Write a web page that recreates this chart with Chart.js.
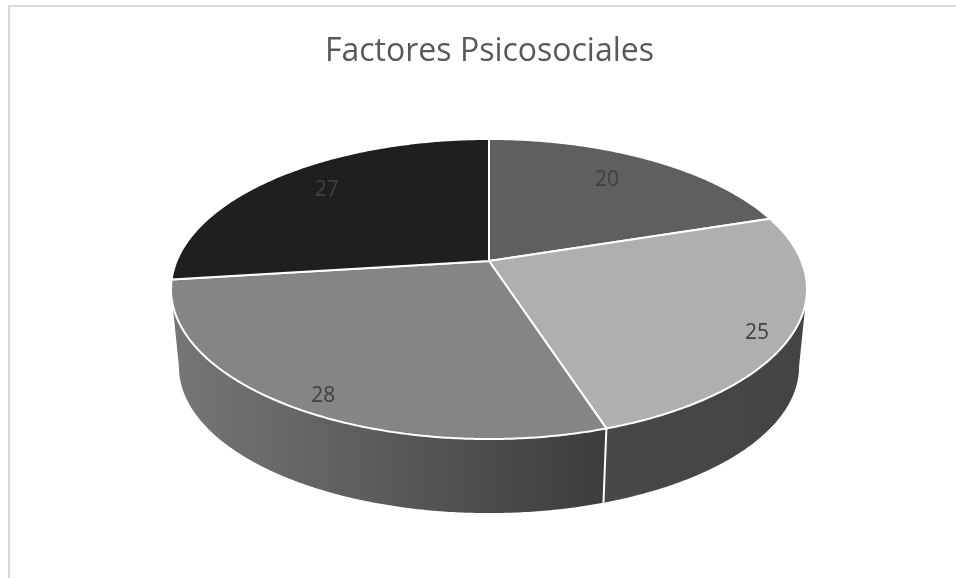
<!DOCTYPE html>
<html>
<head>
<meta charset="utf-8">
<title>Factores Psicosociales</title>
<script src="https://cdn.jsdelivr.net/npm/chart.js@4"></script>
<style>
    html, body { margin: 0; padding: 0; background: #fff; }
    canvas { display: block; }
</style>
</head>
<body>
<canvas id="pieChart" width="956" height="578"></canvas>
<script>
const categories = ["A", "B", "C", "D"];
const values = [20, 25, 28, 27];
const chartTitle = "Factores Psicosociales";

const topColors = ["#5f5f5f", "#afafaf", "#858585", "#1f1f1f"];
// [left colour, right colour] of each slice's outer wall
const wallColors = [["#2f2f2f", "#2f2f2f"], ["#484848", "#444444"], ["#777777", "#3c3c3c"], ["#111111", "#111111"]];
const labelRadius = [0.711, 0.89, 0.857, 0.757];

// perspective of the tilted disc, fitted to the picture
const cx = 489, cy = 261, radX = 312.4, radY = 144.8, tilt = 0.1867;
const wallScale = 0.975, wallDrop = 85;
// the wall is visible between the disc's left and right extremes (degrees clockwise from 12 o'clock)
const frontFrom = Math.acos(-tilt) * 180 / Math.PI, frontTo = 360 - frontFrom;

function project(deg, r = 1) {
    const a = deg * Math.PI / 180;
    const u = r * Math.sin(a), v = r * Math.cos(a);
    const w = 1 + tilt * v;
    return { x: cx + radX * u / w, y: cy - radY * v / w };
}

function lower(p) {
    return { x: cx + (p.x - cx) * wallScale, y: p.y * wallScale + wallDrop };
}

function sliceDegrees(arc) {
    return [arc.startAngle + Math.PI / 2, arc.endAngle + Math.PI / 2].map((a) => a * 180 / Math.PI);
}

function drawWall(ctx, from, to, colors) {
    const rim = [];
    for (let d = from; d < to; d += 0.5) rim.push(project(d));
    rim.push(project(to));

    const xs = rim.map((p) => p.x);
    const grad = ctx.createLinearGradient(Math.max(...xs), 0, Math.min(...xs), 0);
    grad.addColorStop(0, colors[1]);
    grad.addColorStop(1, colors[0]);

    ctx.beginPath();
    rim.forEach((p, i) => (i ? ctx.lineTo(p.x, p.y) : ctx.moveTo(p.x, p.y)));
    rim.slice().reverse().forEach((p) => {
        const q = lower(p);
        ctx.lineTo(q.x, q.y);
    });
    ctx.closePath();
    ctx.fillStyle = grad;
    ctx.fill();
}

function drawTop(ctx, from, to, color) {
    ctx.beginPath();
    ctx.moveTo(cx, cy);
    for (let d = from; d < to; d += 0.5) {
        const p = project(d);
        ctx.lineTo(p.x, p.y);
    }
    const end = project(to);
    ctx.lineTo(end.x, end.y);
    ctx.closePath();
    ctx.fillStyle = color;
    ctx.fill();
    ctx.strokeStyle = "#ffffff";
    ctx.lineWidth = 2;
    ctx.lineJoin = "round";
    ctx.stroke();
}

const pie3d = {
    id: "pie3d",
    beforeDraw(chart) {
        // the chart frame, open on the right and at the bottom
        const ctx = chart.ctx;
        ctx.fillStyle = "#d9d9d9";
        ctx.fillRect(8, 5, chart.width - 8, 2);
        ctx.fillRect(8, 5, 2, chart.height - 5);
    },
    beforeDatasetDraw(chart, args) {
        const ctx = chart.ctx;
        const arcs = args.meta.data;
        ctx.save();

        arcs.forEach((arc, i) => {
            const [a, b] = sliceDegrees(arc);
            const from = Math.max(a, frontFrom), to = Math.min(b, frontTo);
            if (to > from) drawWall(ctx, from, to, wallColors[i]);
        });

        // white seams between the walls
        arcs.forEach((arc) => {
            const [a] = sliceDegrees(arc);
            if (a <= frontFrom || a >= frontTo) return;
            const p = project(a), q = lower(p);
            ctx.beginPath();
            ctx.moveTo(p.x, p.y);
            ctx.lineTo(q.x, q.y);
            ctx.strokeStyle = "#ffffff";
            ctx.lineWidth = 2;
            ctx.stroke();
        });

        arcs.forEach((arc, i) => {
            const [a, b] = sliceDegrees(arc);
            drawTop(ctx, a, b, topColors[i]);
        });

        ctx.font = "21px 'Open Sans'";
        ctx.fillStyle = "#404040";
        ctx.textAlign = "center";
        ctx.textBaseline = "middle";
        arcs.forEach((arc, i) => {
            const [a, b] = sliceDegrees(arc);
            const p = project((a + b) / 2, labelRadius[i]);
            ctx.fillText(String(values[i]), p.x, p.y + (p.y - cy) * 0.1 + 2);
        });

        ctx.restore();
        return false;
    },
};

new Chart(document.getElementById("pieChart"), {
    type: "pie",
    data: {
        labels: categories,
        datasets: [{ data: values, backgroundColor: topColors, borderColor: "#ffffff", borderWidth: 2 }],
    },
    options: {
        responsive: false,
        animation: false,
        layout: { padding: { left: 23 } },
        plugins: {
            legend: { display: false },
            tooltip: { enabled: false },
            title: {
                display: true,
                text: chartTitle,
                color: "#595959",
                font: { family: "Open Sans", size: 32, weight: "normal" },
                padding: { top: 33, bottom: 10 },
            },
        },
    },
    plugins: [pie3d],
});
</script>
</body>
</html>
